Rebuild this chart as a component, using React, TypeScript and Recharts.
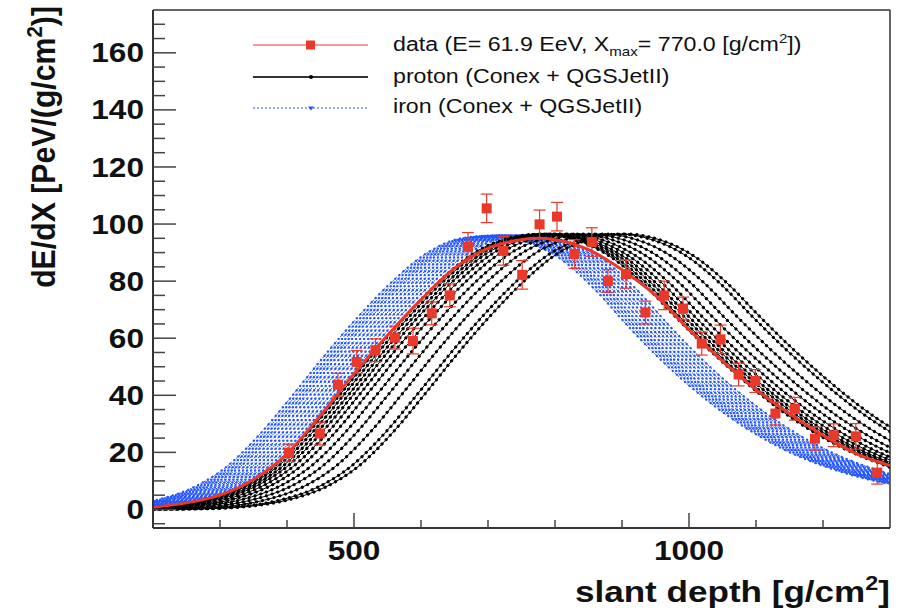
import React from 'react';
import { ComposedChart, Line, Scatter, ErrorBar, XAxis, YAxis, ReferenceLine } from 'recharts';

const FONT = '"Liberation Sans", Arial, Helvetica, sans-serif';
const RED = '#e8392b';
const BLUE = '#2255ff';
const AXIS = '#333';

// measured longitudinal profile (red squares)
const depthPoints = [403, 449, 476, 504, 532, 561, 588, 616, 643, 670, 698, 723, 751, 777, 803, 829, 855, 879, 906, 935, 963, 991, 1019, 1047, 1074, 1099, 1129, 1158, 1188, 1216, 1249, 1281];
const dedxPoints = [19.9, 26.6, 43.7, 51.7, 55.8, 60.2, 59, 68.7, 75, 92, 105.5, 90.6, 82.2, 99.9, 102.6, 89.5, 93.7, 80, 82.5, 69, 75, 70.4, 58.1, 59.6, 47.3, 45, 33.6, 35.3, 24.8, 26, 25.6, 12.9];
const dedxErrors = [3, 4, 4, 4, 4, 4, 4.5, 4, 4, 5, 5, 5, 5, 5, 5, 5, 5, 4, 5, 4, 5, 4, 4, 5, 4, 4, 4, 4, 4, 4, 4.5, 4];

// fitted profile (red line)
const fitDepth = [200, 250, 300, 350, 400, 450, 500, 550, 600, 650, 700, 750, 775, 800, 850, 900, 950, 1000, 1050, 1100, 1150, 1200, 1250, 1300];
const fitDedx = [0.8, 2.3, 5, 10.5, 19.5, 33, 47.5, 61, 73.5, 84.5, 91.5, 94.5, 95, 94.5, 91, 84, 75, 63, 52, 42, 33.5, 26, 19.5, 15.4];

// simulated profile shapes, read relative to each shower's own Xmax
const shapeOffset = [-750, -700, -650, -600, -550, -500, -450, -400, -350, -300, -250, -200, -150, -100, -50, 0, 50, 100, 150, 200, 250, 300, 350, 400, 450, 500, 550, 600, 650];
const protonShape = [0, 0.05, 0.15, 0.45, 1.4, 3.6, 7.7, 15, 26.5, 40.5, 55, 68.5, 80.5, 90, 95, 96.5, 94.5, 89, 79.5, 67.5, 56, 45.5, 36, 28, 21.5, 16.5, 12.5, 9.5, 7];
const ironShape = [0, 0.05, 0.15, 0.45, 1.4, 3.6, 7.7, 15, 26.5, 40.5, 55, 68.5, 80.5, 90, 95, 96, 93.5, 87.5, 77, 64, 52, 41.5, 32.5, 25, 19, 14.5, 11, 8.5, 6.5];

const protonXmax = [780, 786, 793, 800, 809, 820, 835, 852, 872, 895, 906];
const ironXmax = [710, 715, 720, 725, 730, 736, 742, 748, 754, 760, 766, 772];

const xTicks = [300, 400, 500, 600, 700, 800, 900, 1000, 1100, 1200];
const yTicks = [-5, 0, 5, 10, 15, 20, 25, 30, 35, 40, 45, 50, 55, 60, 65, 70, 75, 80, 85, 90, 95, 100, 105, 110, 115, 120, 125, 130, 135, 140, 145, 150, 155, 160, 165, 170];

const fitData = fitDepth.map((x, i) => ({ x, y: fitDedx[i] }));
const pointData = depthPoints.map((x, i) => ({ x, y: dedxPoints[i], err: dedxErrors[i] }));
const profile = (xmax: number, shape: number[]) => shapeOffset.map((d, i) => ({ x: xmax + d, y: shape[i] }));

const XTick = (props: any) => {
  const { x, y, payload } = props;
  const v = payload.value;
  const major = v % 500 === 0;
  return (
    <g>
      <line x1={x} x2={x} y1={y} y2={y - (major ? 15 : 8)} stroke="#444" strokeWidth={1.5} />
      {major && (
        <text transform={`translate(${x},${y + 32}) scale(1.17,1)`} textAnchor="middle"
          fontSize={27} fontWeight="bold" fontFamily={FONT} fill="#111">{v}</text>
      )}
    </g>
  );
};

const YTick = (props: any) => {
  const { x, y, payload } = props;
  const v = payload.value;
  const major = v % 20 === 0;
  return (
    <g>
      <line x1={x} x2={x + (major ? 23 : 12)} y1={y} y2={y} stroke="#444" strokeWidth={1.5} />
      {major && (
        <text transform={`translate(${x - 9},${y + 9.6}) scale(1.17,1)`} textAnchor="end"
          fontSize={27} fontWeight="bold" fontFamily={FONT} fill="#111">{v}</text>
      )}
    </g>
  );
};

const Square = (props: any) => {
  const { cx, cy } = props;
  if (cx == null || cy == null) return null;
  return <rect x={cx - 5} y={cy - 5} width={10} height={10} fill={RED} />;
};

const curveLines = (xs: number[], shape: number[], color: string, kind: 'p' | 'fe') =>
  xs.map((xm, i) => [
    <Line key={`${kind}l${i}`} data={profile(xm, shape)} dataKey="y" type="monotone" stroke={color}
      strokeWidth={1} strokeDasharray={kind === 'fe' ? '2 2' : undefined}
      dot={false} activeDot={false} isAnimationActive={false} />,
    <Line key={`${kind}m${i}`} data={profile(xm, shape)} dataKey="y" type="monotone" stroke={color}
      strokeWidth={kind === 'fe' ? 2.4 : 3.2} strokeDasharray={kind === 'fe' ? '0.01 5.5' : '0.01 6'}
      strokeLinecap="round" dot={false} activeDot={false} isAnimationActive={false} />,
  ]);

export default function App() {
  return (
    <div style={{ position: 'relative', width: 906, height: 616, background: '#fff' }}>
      <style>{'body{margin:0}'}</style>
      <ComposedChart width={906} height={616} margin={{ top: 10, right: 16, bottom: 0, left: 0 }}>
        <XAxis type="number" dataKey="x" domain={[200, 1300]} allowDataOverflow ticks={xTicks}
          interval={0} tick={(p: any) => <XTick {...p} />} tickLine={false} tickSize={0} tickMargin={0}
          height={88} axisLine={{ stroke: AXIS, strokeWidth: 2 }} />
        <YAxis type="number" domain={[-6.5, 175]} allowDataOverflow ticks={yTicks} interval={0}
          tick={(p: any) => <YTick {...p} />} tickLine={false} tickSize={0} tickMargin={0}
          width={153} axisLine={{ stroke: AXIS, strokeWidth: 2 }} />
        <ReferenceLine y={175} stroke={AXIS} strokeWidth={1.5} />
        <ReferenceLine x={1300} stroke={AXIS} strokeWidth={1.5} />
        {curveLines(ironXmax, ironShape, BLUE, 'fe')}
        {curveLines(protonXmax, protonShape, '#000', 'p')}
        <Line data={fitData} dataKey="y" type="monotone" stroke={RED} strokeWidth={3}
          dot={false} activeDot={false} isAnimationActive={false} />
        <Scatter data={pointData} dataKey="y" shape={(p: any) => <Square {...p} />} isAnimationActive={false}>
          <ErrorBar dataKey="err" direction="y" width={6} stroke={RED} strokeWidth={1.2} />
        </Scatter>
      </ComposedChart>
      <svg width={906} height={616} style={{ position: 'absolute', left: 0, top: 0, pointerEvents: 'none' }}
        fontFamily={FONT}>
        {/* legend */}
        <line x1={253} x2={368} y1={45} y2={45} stroke={RED} strokeWidth={1.2} />
        <rect x={306} y={40.5} width={9} height={9} fill={RED} />
        <line x1={253} x2={368} y1={77} y2={77} stroke="#333" strokeWidth={2} />
        <circle cx={311} cy={77} r={2} fill="#000" />
        <line x1={253} x2={368} y1={108} y2={108} stroke={BLUE} strokeWidth={1} strokeDasharray="2 2" />
        <path d="M308,106.5 L314,106.5 L311,110.5 Z" fill={BLUE} />
        <g transform="translate(393,51) scale(1.16,1)">
          <text fontSize={20} fill="#111">
            data (E= 61.9 EeV, X<tspan dy={5} fontSize={13}>max</tspan>
            <tspan dy={-5}>= 770.0 [g/cm</tspan><tspan dy={-8} fontSize={13}>2</tspan><tspan dy={8}>])</tspan>
          </text>
        </g>
        <g transform="translate(393,83) scale(1.16,1)">
          <text fontSize={20} fill="#111">proton (Conex + QGSJetII)</text>
        </g>
        <g transform="translate(393,113) scale(1.16,1)">
          <text fontSize={20} fill="#111">iron (Conex + QGSJetII)</text>
        </g>
        {/* axis titles */}
        <g transform="translate(890,602) scale(1.17,1)">
          <text textAnchor="end" fontSize={30} fontWeight="bold" fill="#111">
            slant depth [g/cm<tspan dy={-12} fontSize={20}>2</tspan><tspan dy={12}>]</tspan>
          </text>
        </g>
        <g transform="translate(55,6) rotate(-90) scale(1.08,1.17)">
          <text textAnchor="end" fontSize={28} fontWeight="bold" fill="#111">
            dE/dX [PeV/(g/cm<tspan dy={-11} fontSize={19}>2</tspan><tspan dy={11}>)]</tspan>
          </text>
        </g>
      </svg>
    </div>
  );
}
